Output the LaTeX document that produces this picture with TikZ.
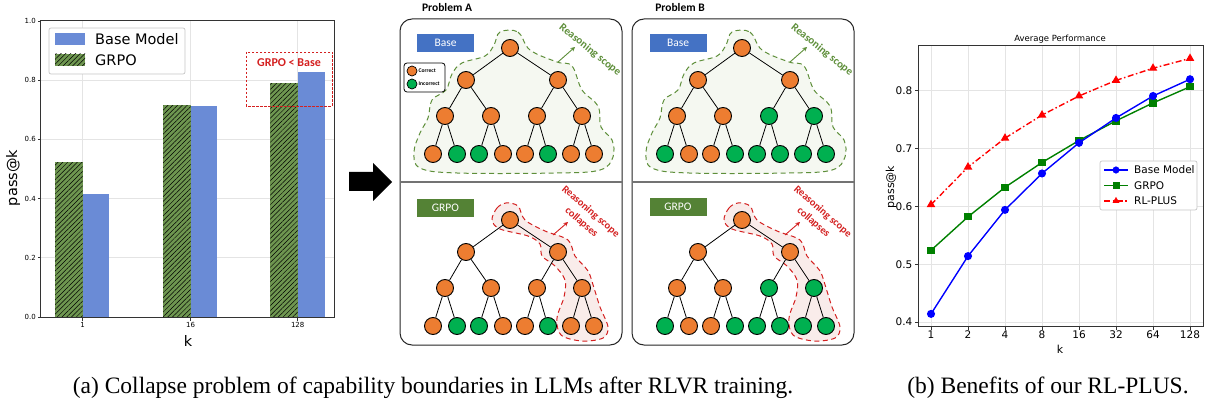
\documentclass[tikz,border=0pt]{standalone}
\usepackage{fontspec}
\setmainfont{Liberation Serif}
\newfontfamily\dvs{DejaVu Sans}
\newfontfamily\cbr{Carlito}
\usetikzlibrary{patterns.meta,arrows.meta,plotmarks}
\definecolor{cO}{HTML}{ED7D31}
\definecolor{cG}{HTML}{00B050}
\definecolor{barblue}{HTML}{6A8BD6}
\definecolor{bargreen}{HTML}{6E9650}
\definecolor{officeblue}{HTML}{4472C4}
\definecolor{officegreen}{HTML}{548235}
\definecolor{scopegreen}{HTML}{5E8F3A}
\definecolor{scopefill}{HTML}{F5F8F1}
\definecolor{redline}{HTML}{D42020}
\definecolor{redfill}{HTML}{F9ECEA}
\definecolor{gridgray}{HTML}{E4E4E4}
\tikzset{
  gridline/.style={gridgray,line width=0.7pt},
  axisframe/.style={black!80,line width=0.9pt},
  tickmark/.style={black!80,line width=0.7pt},
  hatchbar/.style={pattern={Lines[angle=45,distance=3.4pt,line width=0.5pt]},pattern color=black},
  tnode/.style={circle,draw=black,line width=0.9pt,minimum size=17pt,inner sep=0pt},
  tedge/.style={black,line width=0.8pt},
  panel/.style={draw=black!85,line width=1pt,rounded corners=12pt,fill=white},
  divider/.style={black!55,line width=1.5pt},
  lbl/.style={minimum width=57pt,minimum height=18pt,inner sep=0pt,text=white,font=\cbr\fontsize{11.5}{13}\selectfont},
  gscope/.style={draw=scopegreen,fill=scopefill,line width=1pt,dash pattern=on 5pt off 3.5pt},
  rscope/.style={draw=redline,fill=redfill,line width=1pt,dash pattern=on 5pt off 3.5pt},
  gtxt/.style={text=scopegreen,font=\cbr\bfseries\fontsize{11}{12}\selectfont},
  rtxt/.style={text=redline,align=center,font=\cbr\bfseries\fontsize{10.5}{14}\selectfont},
  ltick/.style={font=\dvs\fontsize{7}{8}\selectfont,inner sep=1pt},
  rtick/.style={font=\dvs\fontsize{10.5}{12}\selectfont,inner sep=1pt},
  legmark/.style={only marks,mark size=#1},
}
\newcommand\grpobar[3]{%
  \fill[bargreen] (#1,317) rectangle (#2,{317-296*#3});
  \fill[hatchbar] (#1,317) rectangle (#2,{317-296*#3});}
\newcommand\mytree[4]{%
  \begin{scope}[shift={#2}]
    \node[tnode,fill=cO] (#1r) at (510,48) {};
    \node[tnode,fill=cO] (#1a) at (466,80) {};
    \node[tnode,fill=cO] (#1b) at (558,80) {};
    \foreach \c [count=\i] in {#3} {
      \pgfmathsetmacro\xx{{445,491,537,582}[\i-1]}
      \node[tnode,fill=\c] (#1m\i) at (\xx,116) {};
    }
    \foreach \c [count=\i] in {#4} {
      \pgfmathsetmacro\xx{{433,457,479,503,525,548,571,594}[\i-1]}
      \node[tnode,fill=\c] (#1l\i) at (\xx,154) {};
    }
    \draw[tedge] (#1r) -- (#1a);
    \draw[tedge] (#1r) -- (#1b);
    \draw[tedge] (#1a) -- (#1m1);
    \draw[tedge] (#1a) -- (#1m2);
    \draw[tedge] (#1b) -- (#1m3);
    \draw[tedge] (#1b) -- (#1m4);
    \foreach \i in {1,...,4} {
      \pgfmathtruncatemacro\j{2*\i-1}
      \pgfmathtruncatemacro\k{2*\i}
      \draw[tedge] (#1m\i) -- (#1l\j);
      \draw[tedge] (#1m\i) -- (#1l\k);
    }
  \end{scope}}
\begin{document}
\begin{tikzpicture}[x=1pt,y=-1pt,
  declare function={ry(\v)=322-578*(\v-0.4);}]
\useasboundingbox (0,0) rectangle (1207,403);

%%%%%%%%%%%%%%%% LEFT BAR CHART
\foreach \v in {0.2,0.4,0.6,0.8} \draw[gridline] (40.7,{317-296*\v}) -- (334,{317-296*\v});
\foreach \x in {82.7,190.7,297.7} \draw[gridline] (\x,20.7) -- (\x,317);
\grpobar{55}{82.7}{0.523}
\fill[barblue] (82.7,317) rectangle (109,{317-296*0.415});
\grpobar{163}{190.7}{0.716}
\fill[barblue] (190.7,317) rectangle (217,{317-296*0.713});
\grpobar{270}{297.7}{0.789}
\fill[barblue] (297.7,317) rectangle (325,{317-296*0.828});
\draw[axisframe] (40.7,20.7) rectangle (334,317);
\foreach \v/\l [count=\i] in {0/0.0,0.2/0.2,0.4/0.4,0.6/0.6,0.8/0.8,1/1.0} {
  \draw[tickmark] (40.7,{317-296*\v}) -- (37.5,{317-296*\v});
  \node[ltick,anchor=east] (lyt\i) at (37,{317-296*\v}) {\l};
}
\foreach \x/\l [count=\i] in {82.7/1,190.7/16,297.7/128} {
  \draw[tickmark] (\x,317) -- (\x,320.5);
  \node[ltick,anchor=north] (lxt\i) at (\x,321.5) {\l};
}
\node[font=\dvs\fontsize{14.5}{16}\selectfont,rotate=90] (lylab) at (13,178) {pass@k};
\node[font=\dvs\fontsize{14.5}{16}\selectfont] (lxlab) at (188,341) {k};
% legend
\draw[gray!45,line width=0.7pt,fill=white,rounded corners=2pt] (49,28) rectangle (185,74);
\fill[barblue] (55,33) rectangle (85,45);
\fill[bargreen] (55,54) rectangle (85,66);
\fill[hatchbar] (55,54) rectangle (85,66);
\node[font=\dvs\fontsize{14.5}{16}\selectfont,anchor=west,inner sep=0pt] (lleg1) at (95,39.5) {Base Model};
\node[font=\dvs\fontsize{14.5}{16}\selectfont,anchor=west,inner sep=0pt] (lleg2) at (95,60.5) {GRPO};
% dashed box
\draw[redline,line width=0.9pt,dash pattern=on 2.5pt off 1.5pt] (246,52) rectangle (332,106);
\node[text=redline,font=\cbr\bfseries\fontsize{12}{14}\selectfont] (gltb) at (289,63) {GRPO < Base};

%%%%%%%%%%%%%%%% BIG ARROW
\fill[black] (349,172) -- (373,172) -- (373,163) -- (392,182) -- (373,201) -- (373,191) -- (349,191) -- cycle;

%%%%%%%%%%%%%%%% PANELS
\draw[panel] (400,19) rectangle (622,345);
\draw[panel] (632,19) rectangle (854,345);
\draw[divider] (400.5,182) -- (621.5,182);
\draw[divider] (632.5,182) -- (853.5,182);
\node[font=\cbr\bfseries\fontsize{11.5}{13}\selectfont] (probA) at (447,8) {Problem A};
\node[font=\cbr\bfseries\fontsize{11.5}{13}\selectfont] (probB) at (680,8) {Problem B};

% scopes
\foreach \sx in {0,232} {
  \draw[gscope,shift={(\sx,0)}] plot[smooth cycle,tension=0.6] coordinates {
    (500,32) (518,32) (530,50) (557,62) (572,66) (582,90) (598,106) (601,127)
    (612,140) (613,157) (600,170) (557,173) (457,173) (420,168) (414,152)
    (420,133) (428,118) (432,100) (446,90) (452,74) (462,63) (485,56) (494,45)};
  \draw[rscope,shift={(\sx,0)}] plot[smooth cycle,tension=0.55] coordinates {
    (492,220) (497,208) (506,203) (518,206) (525,220) (545,231) (568,240)
    (575,256) (588,271) (594,288) (600,307) (608,327) (603,338) (582,341)
    (561,335) (557,318) (564,297) (565,280) (555,266) (542,256) (540,244)
    (528,236) (500,229)};
}

% labels
\node[lbl,fill=officeblue] (baseA) at (445.5,43) {Base};
\node[lbl,fill=officeblue] (baseB) at (678,43) {Base};
\node[lbl,fill=officegreen] (grpoA) at (445.5,208) {GRPO};
\node[lbl,fill=officegreen] (grpoB) at (678,207) {GRPO};

% legend in panel A
\draw[black,line width=0.8pt,fill=white,rounded corners=3pt] (404,63) rectangle (445,92);
\node[circle,draw=black,line width=0.7pt,fill=cO,minimum size=10pt,inner sep=0pt] (legC) at (412,71) {};
\node[circle,draw=black,line width=0.7pt,fill=cG,minimum size=10pt,inner sep=0pt] (legI) at (412,84) {};
\node[anchor=west,inner sep=0pt,font=\cbr\bfseries\fontsize{5.6}{6}\selectfont] (legCt) at (418.5,71) {Correct};
\node[anchor=west,inner sep=0pt,font=\cbr\bfseries\fontsize{5.6}{6}\selectfont] (legIt) at (418.5,84) {Incorrect};

% trees
\mytree{TA}{(0,0)}{cO,cO,cO,cO}{cO,cG,cG,cO,cO,cG,cO,cO}
\mytree{TB}{(232,0)}{cO,cO,cG,cG}{cG,cO,cO,cG,cG,cG,cG,cG}
\mytree{BA}{(0,172)}{cO,cO,cO,cO}{cO,cG,cG,cO,cO,cG,cO,cO}
\mytree{BB}{(232,172)}{cO,cO,cG,cG}{cG,cO,cO,cG,cG,cG,cG,cG}

% scope texts and arrows
\foreach \sx/\n in {0/A,232/B} {
  \node[gtxt,rotate=-39] (rs\n) at ({590+\sx},50) {Reasoning scope};
  \coordinate (ga\n) at ({558+\sx},62);
  \coordinate (gb\n) at ({575+\sx},47);
  \draw[scopegreen,line width=0.9pt,-{Stealth[length=4.5pt,width=4.5pt]}] (ga\n) -- (gb\n);
  \node[rtxt,rotate=-41] (rc\n) at ({586+\sx},217) {Reasoning scope\\collapses};
  \coordinate (ra\n) at ({553+\sx},235);
  \coordinate (rb\n) at ({568+\sx},222);
  \draw[redline,line width=0.9pt,-{Stealth[length=4.5pt,width=4.5pt]}] (ra\n) -- (rb\n);
}

%%%%%%%%%%%%%%%% RIGHT LINE CHART
\foreach \v in {0.4,0.5,0.6,0.7,0.8} \draw[gridline] (918,{ry(\v)}) -- (1203,{ry(\v)});
\foreach \i in {0,...,7} \draw[gridline] ({931+37*\i},45) -- ({931+37*\i},326);
\draw[axisframe] (918,45) rectangle (1203,326);
\foreach \v [count=\i] in {0.4,0.5,0.6,0.7,0.8} {
  \draw[tickmark] (918,{ry(\v)}) -- (914.5,{ry(\v)});
  \node[rtick,anchor=east] (ryt\i) at (913.5,{ry(\v)}) {\v};
}
\foreach \l [count=\i from 0] in {1,2,4,8,16,32,64,128} {
  \draw[tickmark] ({931+37*\i},326) -- ({931+37*\i},329.5);
  \node[rtick,anchor=north] (rxt\i) at ({931+37*\i},329.5) {\l};
}
\node[font=\dvs\fontsize{8.5}{10}\selectfont] (rtitle) at (1060,39) {Average Performance};
\node[font=\dvs\fontsize{11}{12}\selectfont,rotate=90] (rylab) at (891,187) {pass@k};
\node[font=\dvs\fontsize{11}{12}\selectfont] (rxlab) at (1060,349) {k};

\draw[green!50!black,line width=1.4pt] plot[mark=square*,mark size=3pt,mark options={fill=green!50!black}] coordinates {
  (931,{ry(0.524)}) (968,{ry(0.582)}) (1005,{ry(0.633)}) (1042,{ry(0.676)})
  (1079,{ry(0.714)}) (1116,{ry(0.748)}) (1153,{ry(0.779)}) (1190,{ry(0.807)})};
\draw[blue,line width=1.4pt] plot[mark=*,mark size=3.3pt,mark options={fill=blue}] coordinates {
  (931,{ry(0.414)}) (968,{ry(0.514)}) (1005,{ry(0.594)}) (1042,{ry(0.657)})
  (1079,{ry(0.710)}) (1116,{ry(0.753)}) (1153,{ry(0.791)}) (1190,{ry(0.820)})};
\draw[red,line width=1.4pt,dash pattern=on 6pt off 2.5pt on 1.5pt off 2.5pt] plot[mark=triangle*,mark size=3.6pt,mark options={fill=red,solid}] coordinates {
  (931,{ry(0.603)}) (968,{ry(0.668)}) (1005,{ry(0.718)}) (1042,{ry(0.758)})
  (1079,{ry(0.791)}) (1116,{ry(0.818)}) (1153,{ry(0.839)}) (1190,{ry(0.856)})};
% legend
\draw[gray!45,line width=0.7pt,fill=white,rounded corners=2pt] (1100,161) rectangle (1197,210);
\draw[blue,line width=1.4pt] (1104,170) -- (1128,170);
\draw[green!50!black,line width=1.4pt] (1104,185.5) -- (1128,185.5);
\draw[red,line width=1.4pt,dash pattern=on 6pt off 2.5pt on 1.5pt off 2.5pt] (1104,201) -- (1128,201);
\path[blue] plot[legmark=3.3pt,mark=*,mark options={fill=blue}] coordinates {(1116,170)};
\path[green!50!black] plot[legmark=3pt,mark=square*,mark options={fill=green!50!black}] coordinates {(1116,185.5)};
\path[red] plot[legmark=3.6pt,mark=triangle*,mark options={fill=red,solid}] coordinates {(1116,201)};
\node[font=\dvs\fontsize{10.5}{12}\selectfont,anchor=west,inner sep=0pt] (rleg1) at (1134,170) {Base Model};
\node[font=\dvs\fontsize{10.5}{12}\selectfont,anchor=west,inner sep=0pt] (rleg2) at (1134,185.5) {GRPO};
\node[font=\dvs\fontsize{10.5}{12}\selectfont,anchor=west,inner sep=0pt] (rleg3) at (1134,201) {RL-PLUS};

%%%%%%%%%%%%%%%% CAPTIONS
\node[anchor=base,inner sep=0pt,font=\fontsize{23.5}{26}\selectfont] (capA) at (433,393) {(a) Collapse problem of capability boundaries in LLMs after RLVR training.};
\node[anchor=base,inner sep=0pt,font=\fontsize{23.5}{26}\selectfont] (capB) at (1048,393) {(b) Benefits of our RL-PLUS.};
\end{tikzpicture}
\end{document}
